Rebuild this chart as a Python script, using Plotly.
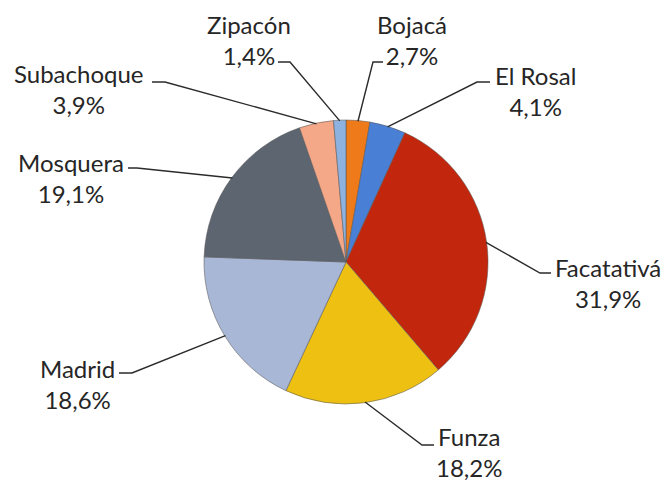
import math
import plotly.graph_objects as go

# ---- data ----
labels = ["Bojacá", "El Rosal", "Facatativá", "Funza", "Madrid", "Mosquera", "Subachoque", "Zipacón"]
values = [2.7, 4.1, 31.9, 18.2, 18.6, 19.1, 3.9, 1.4]
pct_labels = ["2,7%", "4,1%", "31,9%", "18,2%", "18,6%", "19,1%", "3,9%", "1,4%"]
colors = ["#EE7A1A", "#4A7FD6", "#C2260C", "#EDC011", "#A9B7D6", "#5D6571", "#F5A888", "#8EB2E0"]

# ---- layout (pixels) ----
W, H = 667, 483
CX, CY, R = 346, 262, 142

# text block centre, leader start near text, elbow
text_pos = [(412, 40), (535, 91), (608, 283), (469, 452), (77, 384), (71, 178), (78, 89), (249, 40)]
lead_start = [(383, 62), (490, 82), (551, 273), (434, 445), (119, 373), (128, 168), (152, 82), (278, 62)]
lead_elbow = [(373, 62), (477, 82), (540, 273), (422, 445), (132, 373), (137, 168), (165, 82), (290, 62)]


def px(x):
    return x / W


def py(y):
    return (H - y) / H


fig = go.Figure(go.Pie(
    labels=labels,
    values=values,
    sort=False,
    direction="clockwise",
    rotation=0,
    textinfo="none",
    marker=dict(colors=colors, line=dict(color="rgba(90,90,90,0.55)", width=1)),
    domain=dict(x=[px(CX - R), px(CX + R)], y=[py(CY + R), py(CY - R)]),
    showlegend=False,
))

total = sum(values)
cum = 0.0
shapes = []
annotations = []
for i, v in enumerate(values):
    mid = (cum + v / 2) / total * 2 * math.pi
    cum += v
    ex = CX + R * 0.995 * math.sin(mid)
    ey = CY - R * 0.995 * math.cos(mid)
    sx, sy = lead_start[i]
    bx, by = lead_elbow[i]
    path = f"M {px(sx)},{py(sy)} L {px(bx)},{py(by)} L {px(ex)},{py(ey)}"
    shapes.append(dict(type="path", path=path, xref="paper", yref="paper",
                       line=dict(color="#2b2b2b", width=1.4)))
    tx, ty = text_pos[i]
    annotations.append(dict(x=px(tx), y=py(ty), xref="paper", yref="paper",
                            text=f"{labels[i]}<br>{pct_labels[i]}", showarrow=False,
                            xanchor="center", yanchor="middle", align="center",
                            font=dict(family="Lato", size=24, color="#262626")))

fig.update_layout(
    width=W, height=H,
    margin=dict(l=0, r=0, t=0, b=0),
    paper_bgcolor="white",
    plot_bgcolor="white",
    shapes=shapes,
    annotations=annotations,
)

fig.write_html("out.html", config={"displayModeBar": False},
               post_script="document.body.style.margin='0';")
